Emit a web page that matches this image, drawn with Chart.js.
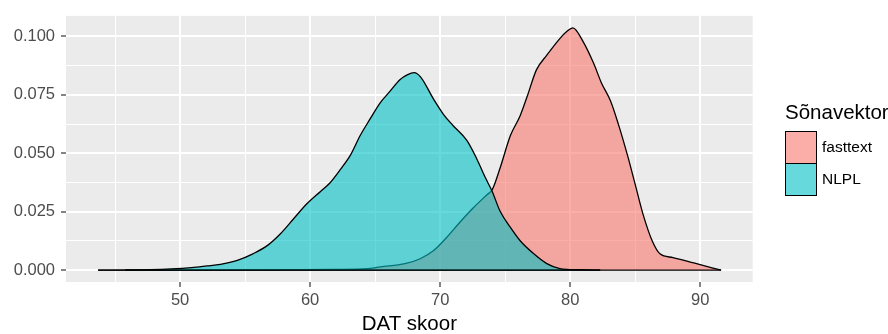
<!DOCTYPE html>
<html>
<head>
<meta charset="utf-8">
<script src="https://cdn.jsdelivr.net/npm/chart.js@4.4.0/dist/chart.umd.min.js"></script>
<style>
  body { margin: 0; background: #fff; }
  #wrap { position: relative; width: 888px; height: 334px; overflow: hidden; }
  #legend { position: absolute; left: 785px; top: 102px; font-family: "Liberation Sans", Arial, sans-serif; }
  #legend .ttl { font-size: 20.5px; line-height: 20.5px; color: #000; white-space: nowrap; margin-bottom: 8px; }
  #legend .row { display: flex; align-items: center; height: 32.3px; }
  #legend .key { box-sizing: border-box; width: 32px; height: 33px; border: 1.5px solid #000; margin-bottom: -1px; }
  #legend .lab { font-size: 15.5px; color: #000; margin-left: 5px; }
</style>
</head>
<body>
<div id="wrap">
  <canvas id="densityChart" width="888" height="334"></canvas>
  <div id="legend"></div>
</div>
<script>
// DAT skoor density
const seriesNames = ["fasttext", "NLPL"];
const seriesColors = ["rgba(248,118,109,0.6)", "rgba(0,191,196,0.6)"];

const fasttextX = [45.8, 55, 62, 64.4, 65.4, 67.3, 68.46, 69.5, 70.5, 71.5, 72.55, 73.6, 74.0, 74.6, 75.4, 76.15, 76.7, 77.4, 78.2, 79.2, 79.75, 80.2, 81.0, 81.8, 82.4, 83.1, 83.7, 84.4, 85.0, 85.6, 86.3, 86.9, 87.9, 89.5, 91.6];
const fasttextY = [0, 0.0001, 0.0003, 0.0006, 0.0014, 0.0028, 0.0049, 0.0084, 0.014, 0.0204, 0.0267, 0.0323, 0.0344, 0.0436, 0.0576, 0.0661, 0.0745, 0.0857, 0.092, 0.0991, 0.1022, 0.1037, 0.0977, 0.0885, 0.0801, 0.0724, 0.0625, 0.0492, 0.0366, 0.0239, 0.0126, 0.007, 0.0054, 0.0031, 0];

const nlplX = [43.7, 47.7, 50.9, 52.05, 53.1, 54.4, 55.6, 56.7, 57.7, 58.7, 59.75, 60.8, 61.5, 62.3, 63.1, 63.85, 64.6, 65.4, 66.15, 66.9, 67.5, 68.0, 68.5, 69.5, 70.25, 71.0, 72.05, 72.8, 73.5, 74.0, 74.6, 75.4, 76.15, 77.2, 78.2, 79.2, 80.8, 82.3];
const nlplY = [0, 0.0002, 0.0011, 0.0018, 0.0025, 0.0042, 0.007, 0.0105, 0.0155, 0.0218, 0.0284, 0.0337, 0.0372, 0.0429, 0.0492, 0.0576, 0.0646, 0.0717, 0.0766, 0.0815, 0.0837, 0.0845, 0.0826, 0.0731, 0.0667, 0.0618, 0.0555, 0.0478, 0.0393, 0.0337, 0.0253, 0.0183, 0.0126, 0.007, 0.0028, 0.0007, 0.0002, 0];

const xTicks = [45, 50, 55, 60, 65, 70, 75, 80, 85, 90];
const yTicks = [0, 0.0125, 0.025, 0.0375, 0.05, 0.0625, 0.075, 0.0875, 0.1];

const xMajor = v => v % 10 === 0;
const yMajor = v => Math.abs(v / 0.025 - Math.round(v / 0.025)) < 1e-6;

const toPoints = (xs, ys) => xs.map((x, i) => ({x: x, y: ys[i]}));
// bottom edge of the density polygon, from first to last x of the series
const baseLine = xs => [{x: xs[0], y: 0}, {x: xs[xs.length - 1], y: 0}];

const panelBg = {
  id: "panelBg",
  beforeDraw(chart) {
    const a = chart.chartArea, c = chart.ctx;
    c.save();
    c.fillStyle = "#EBEBEB";
    c.fillRect(a.left, a.top, a.right - a.left, a.bottom - a.top);
    c.restore();
  }
};

const tickFont = {family: "'Liberation Sans', Arial, sans-serif", size: 16.5};

function areaSet(i, xs, ys, order) {
  return {
    label: seriesNames[i],
    data: toPoints(xs, ys),
    showLine: true,
    fill: "origin",
    backgroundColor: seriesColors[i],
    borderColor: "#000",
    borderWidth: 1.3,
    cubicInterpolationMode: "monotone",
    pointRadius: 0,
    order: order
  };
}
function baseSet(xs, order) {
  return {
    data: baseLine(xs),
    showLine: true,
    fill: false,
    borderColor: "#000",
    borderWidth: 1.3,
    pointRadius: 0,
    order: order
  };
}

new Chart(document.getElementById("densityChart"), {
  type: "scatter",
  data: {
    datasets: [
      areaSet(0, fasttextX, fasttextY, 4),
      baseSet(fasttextX, 3),
      areaSet(1, nlplX, nlplY, 2),
      baseSet(nlplX, 1)
    ]
  },
  options: {
    responsive: false,
    animation: false,
    layout: {padding: {left: 0, right: 135.3, top: 12, bottom: 0}},
    plugins: {legend: {display: false}, tooltip: {enabled: false}},
    scales: {
      x: {
        type: "linear",
        min: 41.23,
        max: 94.03,
        afterBuildTicks: s => { s.ticks = xTicks.map(v => ({value: v})); },
        afterFit: s => { s.height = 52; },
        border: {display: false},
        grid: {
          color: "#fff",
          lineWidth: c => (c.tick && xMajor(c.tick.value)) ? 2 : 1,
          tickColor: c => (c.tick && xMajor(c.tick.value)) ? "#333" : "rgba(0,0,0,0)",
          tickLength: 5,
          tickWidth: 1.2
        },
        ticks: {
          autoSkip: false,
          maxRotation: 0,
          padding: 4,
          color: "#4D4D4D",
          font: tickFont,
          callback: v => xMajor(v) ? String(v) : ""
        },
        title: {
          display: true,
          text: "DAT skoor",
          color: "#000",
          font: {family: "'Liberation Sans', Arial, sans-serif", size: 20.5, lineHeight: 0.92},
          padding: {top: 0, bottom: 0}
        }
      },
      y: {
        min: -0.00506,
        max: 0.1088,
        afterBuildTicks: s => { s.ticks = yTicks.map(v => ({value: v})); },
        afterFit: s => { s.width = 66; },
        border: {display: false},
        grid: {
          color: "#fff",
          lineWidth: c => (c.tick && yMajor(c.tick.value)) ? 2 : 1,
          tickColor: c => (c.tick && yMajor(c.tick.value)) ? "#333" : "rgba(0,0,0,0)",
          tickLength: 5,
          tickWidth: 1.2
        },
        ticks: {
          autoSkip: false,
          padding: 6,
          color: "#4D4D4D",
          font: tickFont,
          callback: v => yMajor(v) ? v.toFixed(3) : ""
        }
      }
    }
  },
  plugins: [panelBg]
});

// legend, ggplot style
const legend = document.getElementById("legend");
let html = '<div class="ttl">Sõnavektor</div>';
seriesNames.forEach((n, i) => {
  html += '<div class="row"><div class="key" style="background:' + seriesColors[i] + '"></div><div class="lab">' + n + '</div></div>';
});
legend.innerHTML = html;
</script>
</body>
</html>
